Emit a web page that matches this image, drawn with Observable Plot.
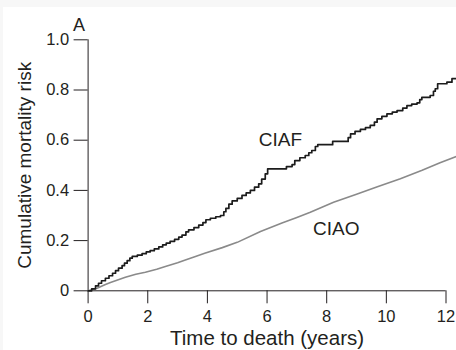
<!DOCTYPE html>
<html>
<head>
<meta charset="utf-8">
<script src="https://cdn.jsdelivr.net/npm/d3@7"></script>
<script src="https://cdn.jsdelivr.net/npm/@observablehq/plot@0.6"></script>
<style>
  html, body { margin: 0; padding: 0; background: #f7f7f7; width: 456px; height: 350px; overflow: hidden; }
  #chart { position: absolute; left: 3px; top: 7px; width: 453px; height: 343px; background: #ffffff; }
  #chart svg { display: block; background: #ffffff; }
</style>
</head>
<body>
<div id="chart"></div>
<script>
// Cumulative mortality risk, CIAF (step curve)
const ciafTime = [0, 0.12, 0.25, 0.35, 0.45, 0.58, 0.70, 0.82, 0.92, 1.02, 1.14, 1.22, 1.31, 1.40, 1.48, 1.65, 1.81, 1.95, 2.08, 2.22, 2.37, 2.50, 2.62, 2.75, 2.90, 3.04, 3.15, 3.28, 3.37, 3.55, 3.71, 3.85, 3.95, 4.10, 4.28, 4.44, 4.55, 4.62, 4.72, 4.83, 5.00, 5.16, 5.30, 5.44, 5.58, 5.72, 5.82, 5.94, 6.02, 6.65, 6.84, 6.93, 7.10, 7.28, 7.40, 7.50, 7.62, 7.70, 8.20, 8.72, 8.80, 8.95, 9.13, 9.30, 9.46, 9.60, 9.69, 9.85, 10.02, 10.20, 10.36, 10.55, 10.69, 10.85, 11.03, 11.12, 11.19, 11.47, 11.58, 11.64, 11.72, 12.03, 12.20, 12.35];
const ciafRisk = [0, 0.008, 0.02, 0.03, 0.04, 0.05, 0.06, 0.07, 0.08, 0.09, 0.10, 0.11, 0.12, 0.13, 0.137, 0.142, 0.148, 0.155, 0.16, 0.167, 0.175, 0.183, 0.19, 0.197, 0.205, 0.214, 0.222, 0.235, 0.243, 0.252, 0.262, 0.272, 0.283, 0.289, 0.295, 0.30, 0.315, 0.328, 0.345, 0.358, 0.368, 0.38, 0.39, 0.40, 0.413, 0.426, 0.445, 0.466, 0.486, 0.495, 0.503, 0.519, 0.53, 0.539, 0.55, 0.559, 0.575, 0.582, 0.595, 0.61, 0.625, 0.635, 0.643, 0.65, 0.659, 0.672, 0.685, 0.695, 0.705, 0.712, 0.718, 0.728, 0.738, 0.744, 0.749, 0.762, 0.771, 0.778, 0.795, 0.805, 0.825, 0.831, 0.845, 0.845];

// CIAO (fine steps, nearly straight)
const ciaoTime = [0, 0.3, 0.58, 0.75, 1.25, 1.6, 1.92, 2.3, 2.59, 3.0, 3.26, 3.6, 3.91, 4.5, 5.0, 5.78, 6.5, 7.0, 7.45, 8.23, 9.0, 9.7, 10.47, 11.2, 11.8, 12.35];
const ciaoRisk = [0, 0.01, 0.025, 0.033, 0.054, 0.066, 0.074, 0.086, 0.097, 0.112, 0.123, 0.137, 0.15, 0.172, 0.193, 0.236, 0.27, 0.292, 0.313, 0.353, 0.385, 0.415, 0.446, 0.48, 0.51, 0.535];

// Series labels and where they sit (in data units)
const seriesNames = ["CIAF", "CIAO"];
const seriesLabelTime = [6.45, 8.32];
const seriesLabelRisk = [0.603, 0.248];

// Ticks
const xTicks = [0, 2, 4, 6, 8, 10, 12];
const yTicks = [0, 0.2, 0.4, 0.6, 0.8, 1.0];
const yTickLabels = ["0", "0.2", "0.4", "0.6", "0.8", "1.0"];

const xTitle = "Time to death (years)";
const yTitle = "Cumulative mortality risk";
const panelLetter = "A";

const ciaf = ciafTime.map((t, i) => ({t, v: ciafRisk[i]}));
const ciao = ciaoTime.map((t, i) => ({t, v: ciaoRisk[i]}));
const labels = seriesNames.map((name, i) => ({name, t: seriesLabelTime[i], v: seriesLabelRisk[i]}));

const ink = "#231f20";

const chart = Plot.plot({
  width: 453,
  height: 343,
  marginLeft: 84.6,
  marginRight: 10.5,
  marginTop: 32.3,
  marginBottom: 59.7,
  style: {fontFamily: "'Liberation Sans', Arial, sans-serif", color: ink, background: "#ffffff"},
  x: {domain: [0, 12]},
  y: {domain: [0, 1]},
  marks: [
    Plot.axisX({ticks: xTicks, tickSize: 13, tickPadding: 6, fontSize: 16.5, label: null, stroke: ink, fill: ink}),
    Plot.axisY({ticks: yTicks, tickSize: 14, tickPadding: 5, fontSize: 16.5, label: null, stroke: ink, fill: ink,
      tickFormat: (d) => yTickLabels[yTicks.indexOf(d)]}),
    Plot.ruleX([0], {stroke: ink, strokeWidth: 1}),
    Plot.ruleY([0], {stroke: ink, strokeWidth: 1}),
    Plot.line(ciao, {x: "t", y: "v", stroke: "#8a8a8a", strokeWidth: 1.6}),
    Plot.line(ciaf, {x: "t", y: "v", curve: "step-after", stroke: "#1c1c1c", strokeWidth: 1.7}),
    Plot.text(labels, {x: "t", y: "v", text: "name", fontSize: 19, fill: ink}),
    Plot.text([xTitle], {frameAnchor: "bottom", textAnchor: "middle", lineAnchor: "middle", dy: 48, fontSize: 20.5, fill: ink}),
    Plot.text([yTitle], {frameAnchor: "left", textAnchor: "middle", lineAnchor: "middle", rotate: -90, dx: -63, fontSize: 19, fill: ink}),
    Plot.text([panelLetter], {frameAnchor: "top-left", textAnchor: "middle", lineAnchor: "middle", dx: -9, dy: -15, fontSize: 18, fill: ink})
  ]
});
document.getElementById("chart").appendChild(chart);
</script>
</body>
</html>
